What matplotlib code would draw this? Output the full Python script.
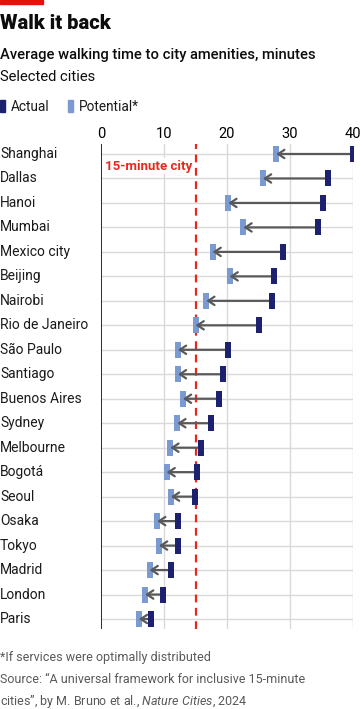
import matplotlib
matplotlib.use("Agg")
import matplotlib.pyplot as plt
import matplotlib.transforms as mtransforms
from matplotlib.patches import Rectangle

# ==============================
# Data
# ==============================
cities = ["Shanghai", "Dallas", "Hanoi", "Mumbai", "Mexico city", "Beijing", "Nairobi",
          "Rio de Janeiro", "São Paulo", "Santiago", "Buenos Aires", "Sydney", "Melbourne",
          "Bogotá", "Seoul", "Osaka", "Tokyo", "Madrid", "London", "Paris"]
actual = [40.0, 36.1, 35.3, 34.5, 28.9, 27.5, 27.2, 25.1, 20.1, 19.4, 18.8, 17.4, 15.9,
          15.2, 14.9, 12.2, 12.2, 11.1, 9.9, 7.9]
potential = [27.8, 25.7, 20.2, 22.6, 17.7, 20.4, 16.7, 15.0, 12.2, 12.2, 13.0, 12.1, 11.0,
             10.4, 11.1, 8.9, 9.2, 7.7, 7.0, 6.0]
x_ticks = [0, 10, 20, 30, 40]
target = 15

# ==============================
# Style
# ==============================
plt.rcParams["font.family"] = ["Roboto", "DejaVu Sans"]
plt.rcParams["mathtext.fontset"] = "custom"
plt.rcParams["mathtext.rm"] = "Roboto"
plt.rcParams["mathtext.it"] = "Roboto:italic"
W, H = 360, 709
c_actual = "#1c2170"
c_pot = "#7b9ad1"
c_red = "#e8281e"
c_grid = "#d9d9d9"
c_arrow = "#595959"

fig = plt.figure(figsize=(W / 100, H / 100), dpi=100)

def fy(px):
    return 1 - px / H

def fx(px):
    return px / W

# axes: x 0..40 from px 101 to 353, rows centred 154..619
ax = fig.add_axes([fx(101), fy(628.8), fx(353) - fx(101), fy(144.2) - fy(628.8)])
ax.set_xlim(0, 40)
ax.set_ylim(len(cities) - 0.6, -0.4)

ys = list(range(len(cities)))

# grid
for x in x_ticks[1:]:
    ax.axvline(x, color=c_grid, lw=1, zorder=0)
for y in ys:
    ax.axhline(y, color=c_grid, lw=1, zorder=0)
ax.axvline(0, color="#1a1a1a", lw=1.3, zorder=6)

# 15-minute line
ax.axvline(target, color=c_red, lw=1.6, ls=(0, (3.5, 2.5)), zorder=2)
ax.text(target - 0.5, 0.5, "15-minute city", color=c_red, fontsize=9.5, fontweight="bold",
        ha="right", va="center", zorder=7,
        bbox=dict(facecolor="white", edgecolor="none", pad=1))

bar = [(-1, -3), (1, -3), (1, 3), (-1, 3)]
ax.scatter(potential, ys, marker=bar, s=11 ** 2, color=c_pot, linewidths=0, zorder=3)
ax.scatter(actual, ys, marker=bar, s=11 ** 2, color=c_actual, linewidths=0, zorder=5)
for a, p, y in zip(actual, potential, ys):
    ax.annotate("", xy=(p, y), xytext=(a, y),
                arrowprops=dict(arrowstyle="->,head_length=0.45,head_width=0.3",
                                color=c_arrow, lw=1.6, shrinkA=0, shrinkB=0),
                zorder=4)

ax.set_xticks(x_ticks)
ax.set_xticklabels([str(t) for t in x_ticks], fontsize=10.5)
ax.xaxis.tick_top()
ax.tick_params(axis="x", length=0, pad=2)
ax.set_yticks([])
for s in ax.spines.values():
    s.set_visible(False)

# city labels at left edge of figure
trans = mtransforms.blended_transform_factory(fig.transFigure, ax.transData)
for c, y in zip(cities, ys):
    ax.text(0.0, y, c, transform=trans, fontsize=10, ha="left", va="center", color="#1a1a1a")

# ==============================
# Header
# ==============================
fig.patches.append(Rectangle((0, fy(4)), fx(43), fy(0) - fy(4), transform=fig.transFigure,
                             color="#e3120b", zorder=10))
fig.text(0, fy(29), "Walk it back", fontsize=14.5, fontweight="black", va="baseline", color="#0d0d0d")
fig.text(0, fy(59), "Average walking time to city amenities, minutes", fontsize=10.6,
         fontweight="medium", va="baseline", color="#0d0d0d")
fig.text(0, fy(81), "Selected cities", fontsize=10.6, va="baseline", color="#0d0d0d")

fig.patches.append(Rectangle((0, fy(112)), fx(5), fy(100) - fy(112), transform=fig.transFigure,
                             color=c_actual))
fig.text(fx(11), fy(111), "Actual", fontsize=9.8, va="baseline", color="#1a1a1a")
fig.patches.append(Rectangle((fx(68), fy(112)), fx(5), fy(100) - fy(112), transform=fig.transFigure,
                             color=c_pot))
fig.text(fx(79), fy(111), "Potential*", fontsize=9.8, va="baseline", color="#1a1a1a")

# ==============================
# Footer
# ==============================
c_note = "#595959"
fig.text(0, fy(661), "*If services were optimally distributed", fontsize=9, va="baseline", color=c_note)
fig.text(0, fy(683), "Source: \u201cA universal framework for inclusive 15-minute", fontsize=9,
         va="baseline", color=c_note)
fig.text(0, fy(705), "cities\u201d, by M. Bruno et al., $\\it{Nature\\ Cities}$, 2024", fontsize=9,
         va="baseline", color=c_note)

fig.savefig("out.png", dpi=100)
